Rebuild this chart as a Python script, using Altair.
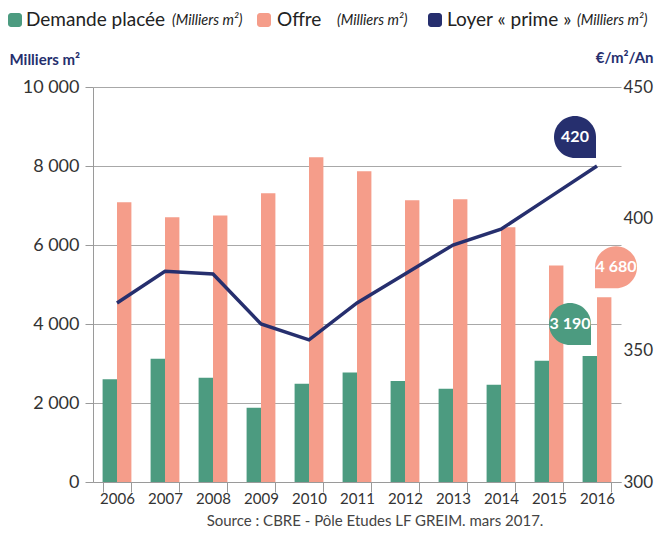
import altair as alt
import pandas as pd

# ---------------- data ----------------
years = ["2006", "2007", "2008", "2009", "2010", "2011", "2012", "2013", "2014", "2015", "2016"]
demande = [2600, 3120, 2640, 1880, 2490, 2770, 2560, 2360, 2460, 3070, 3190]
offre = [7080, 6700, 6750, 7310, 8220, 7870, 7130, 7160, 6450, 5480, 4680]
loyer = [368, 380, 379, 360, 354, 368, 379, 390, 396, 408, 420]

series = ["Demande placée", "Offre", "Loyer « prime »"]
unit = "(Milliers m²)"
left_ticks = [0, 2000, 4000, 6000, 8000, 10000]
right_ticks = [300, 350, 400, 450]
source = "Source : CBRE - Pôle Etudes LF GREIM. mars 2017."

GREEN = "#4c9b80"
SALMON = "#f59d8a"
NAVY = "#262f6e"
FONT = "Lato"

W, H = 528, 395

bars_df = pd.DataFrame(
    {
        "year": years * 2,
        "value": demande + offre,
        "serie": [series[0]] * len(years) + [series[1]] * len(years),
    }
)
loyer_df = pd.DataFrame({"year": years, "loyer": loyer})


def fmt(v):
    return f"{v:,}".replace(",", " ")


ann_green = pd.DataFrame({"year": [years[-1]], "value": [demande[-1]], "label": [fmt(demande[-1])]})
ann_salmon = pd.DataFrame({"year": [years[-1]], "value": [offre[-1]], "label": [fmt(offre[-1])]})
ann_navy = pd.DataFrame({"year": [years[-1]], "loyer": [loyer[-1]], "label": [fmt(loyer[-1])]})

# ---------------- scales / axes ----------------
x_scale = alt.Scale(domain=years, paddingInner=0.4, paddingOuter=0.2)
x_axis = alt.Axis(
    title=None,
    labelAngle=0,
    tickBand="extent",
    tickSize=10,
    tickColor="#9a9a9a",
    domainColor="#9a9a9a",
    labelPadding=-1,
    labelFont=FONT,
    labelFontSize=15,
    labelColor="#333333",
    grid=False,
)
x_enc = alt.X("year:N", scale=x_scale, axis=x_axis)

left_scale = alt.Scale(domain=[0, 10000], nice=False, zero=True)
left_axis = alt.Axis(
    title="Milliers m²",
    titleAngle=0,
    titleX=-84,
    titleY=-28,
    titleAlign="left",
    titleBaseline="middle",
    titleFont=FONT,
    titleFontSize=15,
    titleFontWeight="bold",
    titleColor=NAVY,
    values=left_ticks,
    labelExpr="replace(format(datum.value, ','), ',', ' ')",
    labelFont=FONT,
    labelFontSize=18,
    labelColor="#333333",
    labelPadding=6,
    tickSize=8,
    tickColor="#9a9a9a",
    domainColor="#9a9a9a",
    gridColor="#a8a8a8",
    gridWidth=1.2,
    grid=True,
)
right_scale = alt.Scale(domain=[300, 450], nice=False, zero=False)
right_axis = alt.Axis(
    orient="right",
    title="€/m²/An",
    titleAngle=0,
    titleX=32,
    titleY=-30,
    titleAlign="right",
    titleBaseline="middle",
    titleFont=FONT,
    titleFontSize=15,
    titleFontWeight="bold",
    titleColor=NAVY,
    values=right_ticks,
    labelFont=FONT,
    labelFontSize=17,
    labelColor="#333333",
    labelPadding=2,
    tickSize=0,
    domain=False,
    grid=False,
)

y_left = alt.Y("value:Q", scale=left_scale, axis=left_axis)
y_right = alt.Y("loyer:Q", scale=right_scale, axis=right_axis)

# ---------------- layers ----------------
bars = (
    alt.Chart(bars_df)
    .mark_bar()
    .encode(
        x=x_enc,
        xOffset=alt.XOffset("serie:N", sort=series[:2], scale=alt.Scale(paddingInner=0, paddingOuter=0)),
        y=y_left,
        color=alt.Color("serie:N", scale=alt.Scale(domain=series[:2], range=[GREEN, SALMON]), legend=None),
    )
)

BR = "M -1 0 A 1 1 0 0 1 0 -1 A 1 1 0 0 1 1 0 L 1 1 L 0 1 A 1 1 0 0 1 -1 0 Z"
BL = "M 0 -1 A 1 1 0 0 1 1 0 A 1 1 0 0 1 0 1 L -1 1 L -1 0 A 1 1 0 0 1 0 -1 Z"
BLOB = 1764


def blob(df, y, color, shape, dx, dy):
    p = (
        alt.Chart(df)
        .mark_point(shape=shape, size=BLOB, filled=True, fill=color, opacity=1, strokeWidth=0, xOffset=dx, yOffset=dy)
        .encode(x=x_enc, y=y)
    )
    t = (
        alt.Chart(df)
        .mark_text(color="white", font=FONT, fontSize=16, fontWeight="bold", align="center", baseline="middle",
                   xOffset=dx, yOffset=dy)
        .encode(x=x_enc, y=y, text="label:N")
    )
    return p + t


left_group = alt.layer(
    bars,
    blob(ann_green, y_left, GREEN, BR, -27, -32),
    blob(ann_salmon, y_left, SALMON, BL, 19, -30),
)

line = (
    alt.Chart(loyer_df)
    .mark_line(color=NAVY, strokeWidth=3.5)
    .encode(x=x_enc, y=y_right)
)
right_group = alt.layer(line, blob(ann_navy, y_right, NAVY, BR, -22, -29))

# legend (manual, to reproduce mixed roman/italic labels)
one = pd.DataFrame({"k": [0]})
LY = -67
sq_x = [-85, 164, 335]
txt_x = [-67, 184, 354]
it_x = [79, 244, 484]
cols = [GREEN, SALMON, NAVY]
legend_layers = []
for i in range(3):
    legend_layers.append(
        alt.Chart(one)
        .mark_rect(color=cols[i], cornerRadius=3)
        .encode(x=alt.value(sq_x[i]), x2=alt.value(sq_x[i] + 14), y=alt.value(LY - 7), y2=alt.value(LY + 7))
    )
    legend_layers.append(
        alt.Chart(one)
        .mark_text(align="left", baseline="middle", font=FONT, fontSize=19, color="#222222")
        .encode(x=alt.value(txt_x[i]), y=alt.value(LY), text=alt.value(series[i]))
    )
    legend_layers.append(
        alt.Chart(one)
        .mark_text(align="left", baseline="middle", font=FONT, fontSize=14.5, fontStyle="italic", color="#222222")
        .encode(x=alt.value(it_x[i]), y=alt.value(LY + 1), text=alt.value(unit))
    )

source_txt = (
    alt.Chart(one)
    .mark_text(align="center", baseline="middle", font=FONT, fontSize=15, color="#444444")
    .encode(x=alt.value(282), y=alt.value(434), text=alt.value(source))
)

chart = (
    alt.layer(left_group, right_group, *legend_layers, source_txt)
    .resolve_scale(y="independent")
    .properties(
        width=W,
        height=H,
        autosize=alt.AutoSizeParams(type="none"),
        padding={"left": 85, "top": 79, "right": 34, "bottom": 46},
        background="white",
    )
    .configure_view(stroke=None)
)

chart.save("out.html", embed_options={"renderer": "svg", "actions": False})
